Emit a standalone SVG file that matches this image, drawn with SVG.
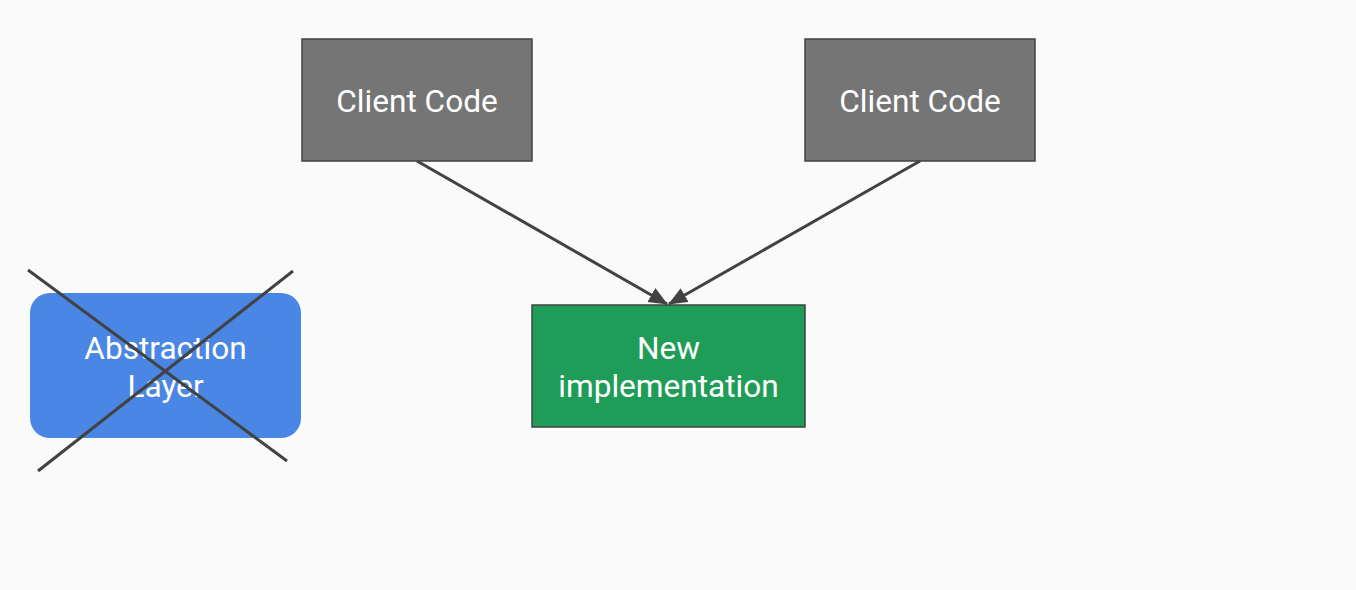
<svg xmlns="http://www.w3.org/2000/svg" width="1356" height="590" viewBox="0 0 1356 590">
<style>
.lbl{font-family:Roboto,"Liberation Sans",sans-serif;font-size:31.6px;fill:#ffffff;text-anchor:middle}
.gray{fill:#757575;stroke:#424242;stroke-width:1.5}
.green{fill:#1f9d58;stroke:#424242;stroke-width:1.5}
.blue{fill:#4a86e3}
.edge{stroke:#424242;stroke-width:3;fill:none}
.cross{stroke:#424242;stroke-width:3;fill:none}
</style>
<defs>
<marker id="arrh" markerWidth="20" markerHeight="20" refX="18" refY="8" orient="auto" markerUnits="userSpaceOnUse">
<path d="M0,0 L19,8 L0,16 z" fill="#424242"/>
</marker>
</defs>
<rect width="1356" height="590" fill="#fafafa"/>
<g id="client1">
<rect class="gray" x="302" y="39" width="230" height="122"/>
<text class="lbl" x="417" y="112">Client Code</text>
</g>
<g id="client2">
<rect class="gray" x="805" y="39" width="230" height="122"/>
<text class="lbl" x="920" y="112">Client Code</text>
</g>
<g id="newimpl">
<rect class="green" x="532" y="305" width="273" height="122"/>
<text class="lbl" x="668.5" y="359">New</text>
<text class="lbl" x="668.5" y="397">implementation</text>
</g>
<g id="abstraction">
<rect class="blue" x="30" y="293" width="271" height="145" rx="20" ry="20"/>
<text class="lbl" x="165.5" y="359">Abstraction</text>
<text class="lbl" x="165.5" y="397">Layer</text>
<line class="cross" x1="28" y1="270" x2="287" y2="461"/>
<line class="cross" x1="293" y1="271" x2="38" y2="471"/>
</g>
<g id="connectors">
<line class="edge" x1="417" y1="161" x2="667" y2="304" marker-end="url(#arrh)"/>
<line class="edge" x1="920" y1="161" x2="669" y2="304" marker-end="url(#arrh)"/>
</g>
</svg>
